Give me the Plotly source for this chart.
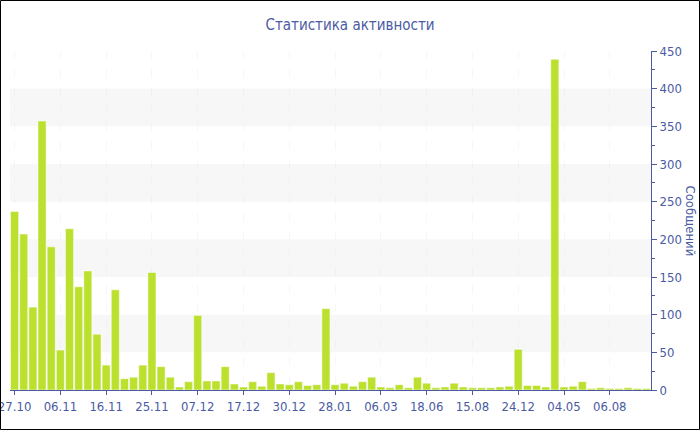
import plotly.graph_objects as go

title_text = "Статистика активности"
y_title = "Сообщений"

values = [237, 207, 110, 357, 190, 53, 214, 137, 158, 74,
          33, 133, 15, 17, 33, 156, 31, 17, 4, 11,
          99, 12, 12, 31, 8, 4, 11, 5, 23, 8,
          7, 11, 6, 7, 108, 7, 9, 5, 11, 17,
          4, 3, 7, 3, 17, 9, 3, 4, 9, 4,
          3, 3, 3, 4, 5, 54, 6, 6, 4, 439,
          4, 5, 11, 2, 3, 2, 2, 3, 2, 2]
x_idx = list(range(len(values)))

tick_positions = [0, 5, 10, 15, 20, 25, 30, 35, 40, 45, 50, 55, 60, 65]
tick_labels = ["27.10", "06.11", "16.11", "25.11", "07.12", "17.12", "30.12",
               "28.01", "06.03", "18.06", "15.08", "24.12", "04.05", "06.08"]

band_ranges = [(50, 100), (150, 200), (250, 300), (350, 400)]

axis_color = "#4a5ba3"
font_family = "DejaVu Sans Condensed, DejaVu Sans, sans-serif"

fig = go.Figure()
fig.add_trace(go.Bar(
    x=x_idx, y=values,
    marker=dict(color="#bbe02e", line=dict(color="rgba(255,255,255,0.5)", width=1)),
    width=0.88,
    showlegend=False,
))

ml, mr, mt, mb = 10, 49, 51, 40
W, H = 700, 430
pw, ph = W - ml - mr, H - mt - mb

shapes = []
for lo, hi in band_ranges:
    shapes.append(dict(type="rect", xref="paper", yref="y", x0=0, x1=1, y0=lo, y1=hi,
                       fillcolor="#f7f7f7", line=dict(width=0), layer="below"))
# outer border
shapes.append(dict(type="rect", xref="paper", yref="paper",
                   x0=-(ml - 0.5) / pw, x1=(pw + mr - 0.5) / pw,
                   y0=-(mb - 0.5) / ph, y1=(ph + mt - 0.5) / ph,
                   line=dict(color="black", width=1), fillcolor="rgba(0,0,0,0)"))

fig.update_layout(
    width=W, height=H,
    margin=dict(l=ml, r=mr, t=mt, b=mb, autoexpand=False),
    paper_bgcolor="white", plot_bgcolor="white",
    font=dict(family=font_family, size=12, color=axis_color),
    title=dict(text=title_text, x=0.5, xref="container", xanchor="center", y=1 - 25 / H, yanchor="middle",
               font=dict(size=15, color=axis_color, family=font_family)),
    shapes=shapes,
    xaxis=dict(range=[-0.5, len(values) - 0.5], tickmode="array",
               tickvals=tick_positions, ticktext=tick_labels,
               automargin=False, ticklabeloverflow="allow",
               showline=True, linecolor=axis_color, linewidth=1,
               ticks="outside", ticklen=4, tickcolor=axis_color,
               showgrid=True, gridcolor="rgba(225,225,225,0.25)", griddash="dash",
               zeroline=False, tickfont=dict(size=13, color=axis_color)),
    yaxis=dict(range=[0, 450], side="right", dtick=50, automargin=False,
               showline=True, linecolor=axis_color, linewidth=1,
               ticks="outside", ticklen=5, tickcolor=axis_color,
               minor=dict(dtick=25, ticks="outside", ticklen=3, tickcolor=axis_color, showgrid=False),
               showgrid=False, zeroline=False, tickfont=dict(size=13, color=axis_color)),
    annotations=[dict(text=y_title, textangle=90, xref="paper", yref="paper",
                      x=(690 - ml) / pw, y=0.5, xanchor="center", yanchor="middle",
                      showarrow=False, font=dict(size=13, color=axis_color))],
)

fig.write_html("out.html", config={"displayModeBar": False},
               post_script="document.body.style.margin='0';")
